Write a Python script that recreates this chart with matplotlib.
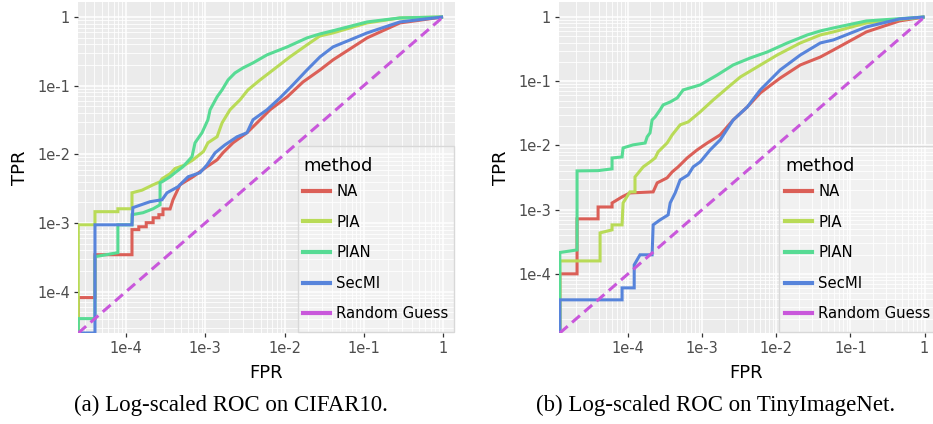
import matplotlib
matplotlib.use("Agg")
import matplotlib.pyplot as plt
import numpy as np
from matplotlib.ticker import LogLocator, FixedLocator, NullFormatter
from matplotlib.patches import Rectangle
from matplotlib.lines import Line2D

# ---------------- data ----------------
methods = ["NA", "PIA", "PIAN", "SecMI", "Random Guess"]
colors = ["#DB5F57", "#B9DB57", "#57DB94", "#5784DB", "#C957DB"]

# (a) CIFAR10
c10_na_fpr = [2.5e-5, 2.5e-5, 4.06e-5, 4.06e-5, 1.19e-4, 1.19e-4, 1.45e-4, 1.45e-4, 1.8e-4, 1.8e-4,
              2.2e-4, 2.2e-4, 2.6e-4, 2.6e-4, 2.93e-4, 2.93e-4, 3.6e-4, 3.92e-4, 4.8e-4, 7.0e-4,
              1.05e-3, 1.41e-3, 1.67e-3, 2.24e-3, 3.36e-3, 4.5e-3, 6.56e-3, 1.08e-2, 1.71e-2, 2.8e-2,
              4.09e-2, 0.11, 0.286, 1.0]
c10_na_tpr = [2.5e-5, 8.2e-5, 8.2e-5, 3.45e-4, 3.45e-4, 8.0e-4, 8.0e-4, 8.8e-4, 8.8e-4, 1.01e-3,
              1.01e-3, 1.19e-3, 1.19e-3, 1.32e-3, 1.32e-3, 1.6e-3, 1.6e-3, 2.18e-3, 3.6e-3, 4.7e-3,
              6.6e-3, 8.3e-3, 1.05e-2, 1.47e-2, 2.06e-2, 2.87e-2, 4.44e-2, 6.86e-2, 0.113, 0.169,
              0.237, 0.495, 0.818, 1.0]

c10_pia_fpr = [2.5e-5, 2.5e-5, 4.06e-5, 4.06e-5, 7.9e-5, 7.9e-5, 1.19e-4, 1.19e-4, 1.59e-4, 2.2e-4,
               2.69e-4, 2.85e-4, 3.59e-4, 4.15e-4, 5.55e-4, 7.0e-4, 9.5e-4, 1.08e-3, 1.41e-3, 1.63e-3,
               2.05e-3, 2.74e-3, 3.46e-3, 4.91e-3, 7.16e-3, 1.17e-2, 1.92e-2, 2.8e-2, 4.09e-2, 0.11,
               0.286, 1.0]
c10_pia_tpr = [2.5e-5, 9.4e-4, 9.4e-4, 1.46e-3, 1.46e-3, 1.61e-3, 1.61e-3, 2.75e-3, 3.0e-3, 3.6e-3,
               3.98e-3, 4.4e-3, 5.2e-3, 6.2e-3, 7.0e-3, 8.3e-3, 1.1e-2, 1.47e-2, 1.8e-2, 2.87e-2,
               4.44e-2, 6.2e-2, 8.67e-2, 0.121, 0.169, 0.262, 0.392, 0.529, 0.585, 0.818,
               0.967, 1.0]

c10_pian_fpr = [2.5e-5, 2.5e-5, 4.06e-5, 4.06e-5, 7.9e-5, 7.9e-5, 1.19e-4, 1.19e-4, 1.64e-4, 2.2e-4,
                2.69e-4, 2.69e-4, 2.85e-4, 3.59e-4, 4.15e-4, 5.24e-4, 6.8e-4, 7.43e-4, 9.1e-4, 1.08e-3,
                1.15e-3, 1.41e-3, 1.63e-3, 1.94e-3, 2.37e-3, 2.99e-3, 4.0e-3, 6.0e-3, 1.08e-2, 1.92e-2,
                2.8e-2, 4.09e-2, 0.11, 0.286, 1.0]
c10_pian_tpr = [2.5e-5, 4.05e-5, 4.05e-5, 3.23e-4, 3.7e-4, 9.4e-4, 9.4e-4, 1.32e-3, 1.41e-3, 1.61e-3,
                1.84e-3, 3.85e-3, 3.98e-3, 4.7e-3, 5.4e-3, 6.6e-3, 9.2e-3, 1.47e-2, 2.06e-2, 3.18e-2,
                4.44e-2, 6.86e-2, 8.67e-2, 0.121, 0.153, 0.181, 0.214, 0.28, 0.366, 0.495,
                0.566, 0.63, 0.846, 0.967, 1.0]

c10_secmi_fpr = [2.5e-5, 4.06e-5, 4.06e-5, 1.19e-4, 1.22e-4, 2.01e-4, 2.85e-4, 3.29e-4, 4.53e-4, 6.06e-4,
                 8.59e-4, 1.05e-3, 1.33e-3, 1.77e-3, 2.52e-3, 3.36e-3, 4.0e-3, 6.0e-3, 8.78e-3, 1.28e-2,
                 1.92e-2, 2.8e-2, 4.09e-2, 0.11, 0.286, 1.0]
c10_secmi_tpr = [2.5e-5, 2.5e-5, 9.4e-4, 9.4e-4, 1.67e-3, 2.04e-3, 2.18e-3, 2.75e-3, 3.37e-3, 4.7e-3,
                 5.4e-3, 7.0e-3, 1.05e-2, 1.37e-2, 1.8e-2, 2.06e-2, 3.18e-2, 4.44e-2, 6.64e-2, 0.103,
                 0.169, 0.262, 0.366, 0.585, 0.846, 1.0]

c10_rand = [2.5e-5, 1.0]

# (b) TinyImageNet
tin_na_fpr = [1.2e-5, 1.2e-5, 2.05e-5, 2.05e-5, 3.94e-5, 3.94e-5, 6.08e-5, 6.08e-5, 8.3e-5, 1.06e-4,
              2.18e-4, 2.47e-4, 3.36e-4, 3.94e-4, 4.74e-4, 6.27e-4, 8.55e-4, 1.17e-3, 1.75e-3, 2.62e-3,
              4.06e-3, 6.08e-3, 1.13e-2, 2.11e-2, 3.93e-2, 5.89e-2, 0.164, 0.459, 1.0]
tin_na_tpr = [1.2e-5, 1.0e-4, 1.0e-4, 7.18e-4, 7.18e-4, 1.1e-3, 1.1e-3, 1.27e-3, 1.58e-3, 1.82e-3,
              1.89e-3, 2.61e-3, 3.12e-3, 3.87e-3, 4.63e-3, 6.38e-3, 8.51e-3, 1.09e-2, 1.46e-2, 2.49e-2,
              3.97e-2, 6.56e-2, 0.112, 0.179, 0.238, 0.306, 0.585, 0.867, 1.0]

tin_pia_fpr = [1.2e-5, 1.2e-5, 4.19e-5, 4.19e-5, 6.08e-5, 6.08e-5, 8.3e-5, 8.56e-5, 1.06e-4, 1.24e-4,
               1.24e-4, 1.6e-4, 1.98e-4, 2.32e-4, 2.54e-4, 2.88e-4, 3.36e-4, 3.94e-4, 5.04e-4, 6.47e-4,
               9.39e-4, 1.41e-3, 2.18e-3, 3.26e-3, 5.54e-3, 1.03e-2, 2.11e-2, 3.93e-2, 5.89e-2, 0.164,
               1.0]
tin_pia_tpr = [1.2e-5, 1.59e-4, 1.59e-4, 4.35e-4, 4.84e-4, 5.79e-4, 5.79e-4, 1.27e-3, 1.89e-3, 1.89e-3,
               3.23e-3, 4.63e-3, 5.53e-3, 6.38e-3, 7.92e-3, 9.14e-3, 1.09e-2, 1.46e-2, 2.09e-2, 2.32e-2,
               3.32e-2, 5.11e-2, 7.85e-2, 0.116, 0.167, 0.256, 0.394, 0.525, 0.585, 0.807,
               1.0]

tin_pian_fpr = [1.2e-5, 1.2e-5, 2.05e-5, 2.05e-5, 3.94e-5, 6.08e-5, 6.08e-5, 8.3e-5, 8.56e-5, 1.17e-4,
                1.7e-4, 1.81e-4, 1.98e-4, 2.11e-4, 2.32e-4, 2.7e-4, 2.97e-4, 3.7e-4, 4.6e-4, 5.54e-4,
                9.39e-4, 1.6e-3, 2.62e-3, 4.46e-3, 7.55e-3, 1.41e-2, 2.62e-2, 3.93e-2, 5.89e-2, 0.164,
                1.0]
tin_pian_tpr = [1.2e-5, 2.15e-4, 2.36e-4, 4.01e-3, 4.05e-3, 4.31e-3, 6.38e-3, 6.62e-3, 9.14e-3, 1.02e-2,
                1.09e-2, 1.36e-2, 1.57e-2, 2.49e-2, 2.78e-2, 3.57e-2, 4.27e-2, 4.75e-2, 5.48e-2, 7.31e-2,
                8.75e-2, 0.125, 0.179, 0.230, 0.285, 0.394, 0.525, 0.606, 0.674, 0.867,
                1.0]

tin_secmi_fpr = [1.2e-5, 1.2e-5, 8.3e-5, 8.3e-5, 1.21e-4, 1.21e-4, 1.45e-4, 2.11e-4, 2.18e-4, 2.7e-4,
                 3.47e-4, 3.7e-4, 4.32e-4, 5.04e-4, 6.47e-4, 7.56e-4, 9.39e-4, 1.28e-3, 1.75e-3, 2.62e-3,
                 4.06e-3, 6.08e-3, 1.13e-2, 2.11e-2, 3.93e-2, 5.89e-2, 0.164, 0.459, 1.0]
tin_secmi_tpr = [1.2e-5, 3.94e-5, 3.94e-5, 6.05e-5, 6.05e-5, 1.38e-4, 1.98e-4, 1.98e-4, 5.79e-4, 6.92e-4,
                 8.28e-4, 1.27e-3, 1.82e-3, 2.9e-3, 3.47e-3, 4.63e-3, 5.53e-3, 8.51e-3, 1.22e-2, 2.49e-2,
                 3.97e-2, 7.31e-2, 0.150, 0.256, 0.394, 0.439, 0.699, 0.931, 1.0]

tin_rand = [1.2e-5, 1.0]

tick_vals = [1e-4, 1e-3, 1e-2, 1e-1, 1]
tick_labels = ["1e-4", "1e-3", "1e-2", "1e-1", "1"]
captions = ["(a) Log-scaled ROC on CIFAR10.", "(b) Log-scaled ROC on TinyImageNet."]
legend_title = "method"

# ---------------- figure ----------------
plt.rcParams['font.family'] = ['DejaVu Sans']
W, H = 933, 424
fig = plt.figure(figsize=(W / 100, H / 100), dpi=100)


def px_axes(x0, x1, y0, y1):
    return fig.add_axes([x0 / W, 1 - y1 / H, (x1 - x0) / W, (y1 - y0) / H])


panels = [
    dict(box=(78, 455, 2, 333),
         curves=[(c10_na_fpr, c10_na_tpr), (c10_pia_fpr, c10_pia_tpr),
                 (c10_pian_fpr, c10_pian_tpr), (c10_secmi_fpr, c10_secmi_tpr)],
         rand=c10_rand, xlim=(2.48e-5, 1.415), ylim=(2.5e-5, 1.65),
         leg_frame=(298, 454, 146, 332), leg_x=303, title_y=166, row1_top=184),
    dict(box=(559, 933, 2, 333),
         curves=[(tin_na_fpr, tin_na_tpr), (tin_pia_fpr, tin_pia_tpr),
                 (tin_pian_fpr, tin_pian_tpr), (tin_secmi_fpr, tin_secmi_tpr)],
         rand=tin_rand, xlim=(1.17e-5, 1.3), ylim=(1.2e-5, 1.71),
         leg_frame=(779, 940, 146, 332), leg_x=785, title_y=166, row1_top=184),
]

for i, p in enumerate(panels):
    bx0, bx1, by0, by1 = p["box"]
    ax = px_axes(bx0, bx1, by0, by1)

    def fx(x):
        return (x - bx0) / (bx1 - bx0)

    def fy(y):
        return (by1 - y) / (by1 - by0)

    ax.set_facecolor("#EBEBEB")
    ax.set_xscale("log")
    ax.set_yscale("log")
    for s in ax.spines.values():
        s.set_visible(False)
    ax.set_xlim(*p["xlim"])
    ax.set_ylim(*p["ylim"])
    ax.xaxis.set_major_locator(FixedLocator(tick_vals))
    ax.yaxis.set_major_locator(FixedLocator(tick_vals))
    ax.set_xticklabels(tick_labels)
    ax.set_yticklabels(tick_labels)
    ax.xaxis.set_minor_locator(LogLocator(base=10, subs=np.arange(2, 10), numticks=20))
    ax.yaxis.set_minor_locator(LogLocator(base=10, subs=np.arange(2, 10), numticks=20))
    ax.xaxis.set_minor_formatter(NullFormatter())
    ax.yaxis.set_minor_formatter(NullFormatter())
    ax.grid(True, which="major", color="white", linewidth=1.1)
    ax.grid(True, which="minor", color="white", linewidth=0.6)
    ax.set_axisbelow(True)
    ax.tick_params(which="major", length=3.2, width=0.9, color="#333333",
                   labelcolor="#4D4D4D", labelsize=10.5, pad=2.5)
    ax.tick_params(which="minor", length=0)

    handles = []
    for (fxs, tys), name, col in zip(p["curves"], methods[:4], colors[:4]):
        ax.plot(fxs, tys, color=col, lw=2.2, solid_joinstyle="miter", solid_capstyle="butt")
        handles.append(Line2D([], [], color=col, lw=3, label=name))
    ax.plot(p["rand"], p["rand"], color=colors[4], lw=2.2, ls=(0, (3.4, 1.9)))
    handles.append(Line2D([], [], color=colors[4], lw=3, label=methods[4]))

    ax.set_xlabel("FPR", fontsize=13, labelpad=6)
    ax.set_ylabel("TPR", fontsize=13, labelpad=6)

    # legend frame (semi-transparent, like the reference)
    lx0, lx1, ly0, ly1 = p["leg_frame"]
    ax.add_patch(Rectangle((fx(lx0), fy(ly1)), fx(lx1) - fx(lx0), fy(ly0) - fy(ly1),
                           transform=ax.transAxes, facecolor=(1, 1, 1, 0.3),
                           edgecolor="#D8D8D8", linewidth=1.0, clip_on=False, zorder=4))
    ax.text(fx(p["leg_x"]), fy(p["title_y"]), legend_title, transform=ax.transAxes,
            fontsize=13, ha="left", va="center", color="black", zorder=6, clip_on=False)
    leg = ax.legend(handles=handles, loc="upper left",
                    bbox_to_anchor=(fx(p["leg_x"]), fy(p["row1_top"])),
                    fontsize=10.7, frameon=False, handlelength=1.85, handletextpad=0.4,
                    labelspacing=1.05, borderpad=0.0, borderaxespad=0.0)
    leg.set_zorder(6)

fig.text(231 / W, 1 - 405 / H, captions[0], ha="center", va="center",
         family="Liberation Serif", fontsize=16.5)
fig.text(716 / W, 1 - 405 / H, captions[1], ha="center", va="center",
         family="Liberation Serif", fontsize=16.5)

fig.savefig("out.png", dpi=100)
